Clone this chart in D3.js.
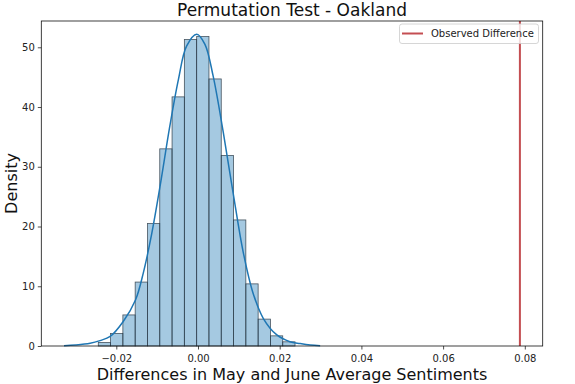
<!DOCTYPE html>
<html>
<head>
<meta charset="utf-8">
<script src="https://cdn.jsdelivr.net/npm/d3@7"></script>
<style>
  body { margin: 0; background: #fff; }
  svg { font-family: "DejaVu Sans", sans-serif; }
</style>
</head>
<body>
<svg></svg>
<script>
// histogram bins (density), 16 bins
const binStart = -0.02441;
const binWidth = 0.00301;
const binDensity = [0.6, 2.1, 5.2, 10.7, 20.5, 33.0, 41.7, 51.3, 51.8, 44.7, 31.9, 21.1, 10.4, 4.5, 1.7, 0.7];

// kde curve
const kdeX = [-0.0328, -0.0300, -0.0264, -0.0240, -0.0215, -0.0183, -0.0153, -0.0134, -0.0113, -0.0093, -0.0069, -0.0048, -0.0028, -0.0003, 0.0017, 0.0037, 0.0062, 0.0086, 0.0111, 0.0135, 0.0160, 0.0193, 0.0225, 0.0250, 0.0275, 0.0299];
const kdeY = [0.03, 0.15, 0.45, 0.9, 1.6, 4.1, 7.7, 12.2, 18.9, 26.7, 36.8, 44.6, 50.2, 52.2, 50.5, 45.2, 35.7, 25.6, 15.6, 8.8, 4.6, 1.85, 0.72, 0.4, 0.15, 0.03];

const observed = 0.0788;
const xTicks = [-0.02, 0.00, 0.02, 0.04, 0.06, 0.08];
const yTicks = [0, 10, 20, 30, 40, 50];

var svgWidth = 575;
var svgHeight = 384;
var margin = {left: 41.3, right: 575 - 542.7, top: 21, bottom: 384 - 346};

var svg = d3.select('svg')
  .attr('width', svgWidth)
  .attr('height', svgHeight);

var x = d3.scaleLinear()
  .domain([-0.03836, 0.08438])
  .range([margin.left, svgWidth - margin.right]);

var y = d3.scaleLinear()
  .domain([0, 54.4])
  .range([svgHeight - margin.bottom, margin.top]);

var bins = binDensity.map((d, i) => ({x0: binStart + i * binWidth, x1: binStart + (i + 1) * binWidth, v: d}));

svg.append('g').selectAll('rect')
  .data(bins)
  .enter()
  .append('rect')
  .attr('x', d => x(d.x0))
  .attr('y', d => y(d.v))
  .attr('width', d => x(d.x1) - x(d.x0))
  .attr('height', d => y(0) - y(d.v))
  .attr('fill', 'rgba(31,119,180,0.4)')
  .attr('stroke', '#2e3b47')
  .attr('stroke-opacity', 0.85)
  .attr('stroke-width', 0.8);

var kde = kdeX.map((d, i) => [d, kdeY[i]]);
svg.append('path')
  .datum(kde)
  .attr('fill', 'none')
  .attr('stroke', '#1f77b4')
  .attr('stroke-width', 1.5)
  .attr('d', d3.line().x(d => x(d[0])).y(d => y(d[1])).curve(d3.curveCatmullRom));

svg.append('line')
  .attr('x1', x(observed)).attr('x2', x(observed))
  .attr('y1', y.range()[0]).attr('y2', y.range()[1])
  .attr('stroke', '#c44e52')
  .attr('stroke-width', 2);

// axes
var xAxis = svg.append('g')
  .attr('transform', 'translate(0,' + y(0) + ')')
  .call(d3.axisBottom(x).tickValues(xTicks).tickFormat(d => d3.format('.2f')(d).replace('-', '\u2212')).tickSizeOuter(0).tickSize(3.5));
var yAxis = svg.append('g')
  .attr('transform', 'translate(' + margin.left + ',0)')
  .call(d3.axisLeft(y).tickValues(yTicks).tickSizeOuter(0).tickSize(3.5));

[xAxis, yAxis].forEach(a => {
  a.select('.domain').remove();
  a.selectAll('text').attr('font-size', 10).attr('fill', '#222').attr('font-family', '"DejaVu Sans", sans-serif');
  a.selectAll('line').attr('stroke', '#222').attr('stroke-width', 0.8);
});
xAxis.selectAll('text').attr('dy', '0.9em');

// frame
svg.append('rect')
  .attr('x', x.range()[0]).attr('y', y.range()[1])
  .attr('width', x.range()[1] - x.range()[0])
  .attr('height', y.range()[0] - y.range()[1])
  .attr('fill', 'none').attr('stroke', '#111').attr('stroke-width', 0.8);

// legend
var lg = svg.append('g');
lg.append('rect')
  .attr('x', 399.5).attr('y', 24).attr('width', 139).attr('height', 19.5)
  .attr('rx', 2.5)
  .attr('fill', 'rgba(255,255,255,0.8)').attr('stroke', '#ccc').attr('stroke-width', 0.8);
lg.append('line')
  .attr('x1', 402).attr('x2', 423).attr('y1', 33.5).attr('y2', 33.5)
  .attr('stroke', '#c44e52').attr('stroke-width', 2);
lg.append('text')
  .attr('x', 431).attr('y', 37)
  .attr('font-size', 10).attr('fill', '#222')
  .text('Observed Difference');

// titles
svg.append('text')
  .attr('x', (x.range()[0] + x.range()[1]) / 2).attr('y', 16)
  .attr('text-anchor', 'middle').attr('font-size', 17).attr('fill', '#111')
  .text('Permutation Test - Oakland');
svg.append('text')
  .attr('x', (x.range()[0] + x.range()[1]) / 2).attr('y', 380)
  .attr('text-anchor', 'middle').attr('font-size', 16).attr('fill', '#111')
  .text('Differences in May and June Average Sentiments');
svg.append('text')
  .attr('transform', 'translate(17,' + ((y.range()[0] + y.range()[1]) / 2) + ') rotate(-90)')
  .attr('text-anchor', 'middle').attr('font-size', 16).attr('fill', '#111')
  .text('Density');
</script>
</body>
</html>
